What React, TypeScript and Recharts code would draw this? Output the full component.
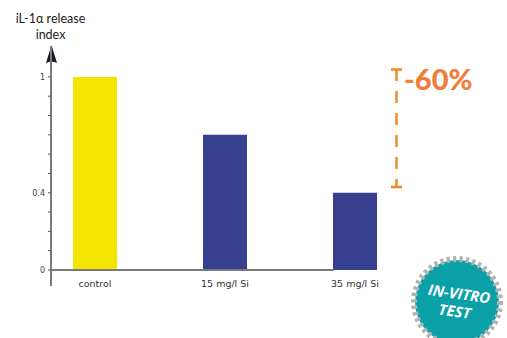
import React from "react";
import { BarChart, Bar, XAxis, YAxis, Cell } from "recharts";

const categories = ["control", "15 mg/l Si", "35 mg/l Si"];
const releaseIndex = [1, 0.7, 0.4];
const barColors = ["#F4E500", "#37408F", "#37408F"];
const yTicks = [0, 0.1, 0.2, 0.3, 0.4, 0.5, 0.6, 0.7, 0.8, 0.9, 1];
const yLabelled = [0, 0.4, 1];

const rows = categories.map((name, i) => ({ name, value: releaseIndex[i] }));

const AXIS = "#7a7a7a";
const ORANGE = "#F08A24";
const UI_FONT = "'DejaVu Sans', sans-serif";
const TITLE_FONT = "Lato, sans-serif";

export default function App() {
  return (
    <div style={{ position: "absolute", left: 0, top: 0, width: 507, height: 338 }}>
      <BarChart
        width={507}
        height={338}
        data={rows}
        margin={{ top: 46, right: 173, bottom: 48, left: 0 }}
      >
        <XAxis
          dataKey="name"
          scale="point"
          padding={{ left: 44, right: -21 }}
          height={20}
          interval={0}
          tickLine={false}
          tickMargin={4}
          axisLine={{ stroke: AXIS, strokeWidth: 2 }}
          tick={{ fontSize: 9.5, fontFamily: UI_FONT, fill: "#333" }}
        />
        <YAxis
          width={51}
          type="number"
          domain={[0, 1.16]}
          ticks={yTicks}
          interval={0}
          tickSize={3}
          tickMargin={3}
          tickLine={{ stroke: "#555" }}
          axisLine={{ stroke: AXIS, strokeWidth: 2 }}
          tickFormatter={(v: number) => (yLabelled.includes(v) ? String(v) : "")}
          tick={{ fontSize: 8, fontFamily: UI_FONT, fill: "#444" }}
        />
        <Bar dataKey="value" barSize={44} isAnimationActive={false}>
          {rows.map((r, i) => (
            <Cell key={r.name} fill={barColors[i]} />
          ))}
        </Bar>

        {/* axis arrowhead and the stub below the origin */}
        <line x1={51} y1={270} x2={51} y2={286} stroke={AXIS} strokeWidth={2} />
        <path d="M51.5 45 L57 63 Q51.5 60 46 63 Z" fill="#1b1b25" />

        <text textAnchor="middle" fontFamily={TITLE_FONT} fontSize={12.5} fill="#222">
          <tspan x={50.5} y={23}>iL-1α release</tspan>
          <tspan x={50.5} y={39}>index</tspan>
        </text>

        {/* reduction bracket */}
        <line x1={391} y1={69.5} x2={402} y2={69.5} stroke={ORANGE} strokeWidth={2.5} />
        <line x1={396.5} y1={69} x2={396.5} y2={187} stroke={ORANGE} strokeWidth={2.5} strokeDasharray="12 10" />
        <line x1={391} y1={187} x2={402} y2={187} stroke={ORANGE} strokeWidth={2.5} />
        <text x={404} y={90} fontFamily={TITLE_FONT} fontWeight={900} fontSize={29} fill="#F07E3A">
          -60%
        </text>

        {/* test badge */}
        <circle cx={457} cy={302} r={42} fill="#0AA0A8" />
        <circle cx={457} cy={302} r={43} fill="none" stroke="#B2B2B2" strokeWidth={6} strokeDasharray="3.2 3.2" />
        <g transform="rotate(8 457 302)" textAnchor="middle" fill="#fff" fontFamily="'Open Sans', sans-serif" fontWeight={700} fontStyle="italic" fontSize={15}>
          <text x={458} y={299}>IN-VITRO</text>
          <text x={456} y={317}>TEST</text>
        </g>
      </BarChart>
    </div>
  );
}
